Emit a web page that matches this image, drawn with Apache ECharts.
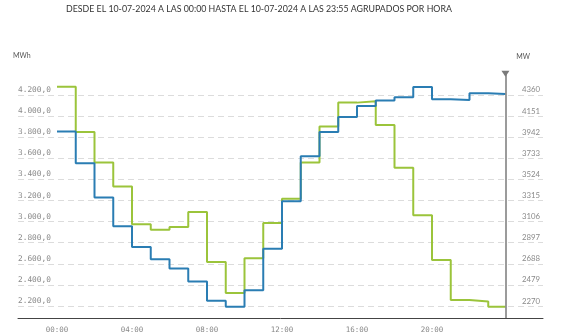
<!DOCTYPE html>
<html>
<head>
<meta charset="utf-8">
<script src="https://cdn.jsdelivr.net/npm/echarts@6/dist/echarts.min.js"></script>
<style>
  html, body { margin: 0; padding: 0; background: #fff; }
  #chart { width: 567px; height: 334px; }
</style>
</head>
<body>
<div id="chart"></div>
<script>
// Hourly values for 10-07-2024 (each value holds for its hour)
const hours = [0, 1, 2, 3, 4, 5, 6, 7, 8, 9, 10, 11, 12, 13, 14, 15, 16, 17, 18, 19, 20, 21, 22, 23];
const endHour = 23 + 55 / 60; // last sample 23:55
const seriesBlue = [3854, 3552, 3228, 2955, 2759, 2643, 2555, 2433, 2250, 2193, 2351, 2744,
                    3193, 3618, 3848, 3990, 4096, 4146, 4178, 4275, 4159, 4153, 4216, 4209];
const seriesGreen = [4278, 3848, 3561, 3332, 2974, 2923, 2948, 3090, 2618, 2325, 2653, 2986,
                     3216, 3561, 3901, 4127, 4140, 3914, 3511, 3061, 2637, 2257, 2244, 2193];
const xTicks = [0, 4, 8, 12, 16, 20];
const rightTickLabels = ['2061', '2270', '2479', '2688', '2897', '3106', '3315', '3524', '3733', '3942', '4151', '4360'];

const toSteps = (vals) => {
  const pts = hours.map((h, i) => [h, vals[i]]);
  pts.push([endHour, vals[vals.length - 1]]);
  return pts;
};

const fmtMWh = (v) => {
  const n = Math.round(v);
  const s = String(n).replace(/\B(?=(\d{3})+(?!\d))/g, '.');
  return s + ',0';
};

const Y_MIN = 2000, Y_MAX = 4400, Y_STEP = 200;

const chart = echarts.init(document.getElementById('chart'), null, { renderer: 'canvas' });
chart.setOption({
  animation: false,
  backgroundColor: '#ffffff',
  title: {
    text: 'DESDE EL 10-07-2024 A LAS 00:00 HASTA EL 10-07-2024 A LAS 23:55 AGRUPADOS POR HORA',
    left: 61,
    top: 0,
    textStyle: { fontFamily: 'Lato', fontSize: 8.8, fontWeight: 'normal', color: '#333' }
  },
  // unit captions above each value axis
  graphic: [
    { type: 'text', left: 13, top: 52,
      style: { text: 'MWh', fontFamily: 'Lato', fontSize: 7, fill: '#555' } },
    { type: 'text', right: 37, top: 53,
      style: { text: 'MW', fontFamily: 'Lato', fontSize: 7, fill: '#555' } }
  ],
  grid: { left: 18, right: 24, top: 73.8, bottom: 5.8, containLabel: false },
  xAxis: {
    type: 'value',
    min: -2.08,
    max: 25.92,
    offset: -9.2,
    axisLine: { show: true, lineStyle: { color: '#444', width: 1 } },
    axisTick: { show: false },
    splitLine: { show: false },
    axisLabel: {
      customValues: xTicks,
      margin: 8,
      fontFamily: 'DejaVu Sans Mono',
      fontSize: 7.5,
      color: '#888',
      formatter: (v) => String(v).padStart(2, '0') + ':00'
    }
  },
  yAxis: [
    {
      type: 'value',
      position: 'left',
      min: Y_MIN, max: Y_MAX, interval: Y_STEP,
      axisLine: { show: false },
      axisTick: { show: false },
      splitLine: { show: true, showMinLine: false, showMaxLine: false,
                   lineStyle: { color: '#dcdcdc', type: [6, 4], width: 1 } },
      axisLabel: {
        inside: true,
        margin: 0,
        align: 'left',
        verticalAlign: 'bottom',
        lineHeight: 10,
        showMinLabel: false,
        showMaxLabel: false,
        fontFamily: 'DejaVu Sans Mono',
        fontSize: 7.8,
        color: '#8a8a8a',
        formatter: fmtMWh
      }
    },
    {
      type: 'value',
      position: 'right',
      min: Y_MIN, max: Y_MAX, interval: Y_STEP,
      axisLine: { show: false },
      axisTick: { show: false },
      splitLine: { show: false },
      axisLabel: {
        inside: true,
        margin: 3,
        align: 'right',
        verticalAlign: 'bottom',
        lineHeight: 10,
        showMinLabel: false,
        showMaxLabel: false,
        fontFamily: 'Lato',
        fontSize: 7.8,
        color: '#8a8a8a',
        formatter: (v) => rightTickLabels[Math.round((v - Y_MIN) / Y_STEP)] || ''
      }
    }
  ],
  series: [
    {
      name: 'green',
      type: 'line',
      step: 'end',
      data: toSteps(seriesGreen),
      showSymbol: false,
      lineStyle: { color: '#9bc43b', width: 2 },
      itemStyle: { color: '#9bc43b' },
      z: 2
    },
    {
      name: 'blue',
      type: 'line',
      step: 'end',
      data: toSteps(seriesBlue),
      showSymbol: false,
      lineStyle: { color: '#2a7db3', width: 2 },
      itemStyle: { color: '#2a7db3' },
      z: 3,
      markLine: {
        silent: true,
        symbol: ['none', 'triangle'],
        symbolSize: [8, 6],
        symbolRotate: 180,
        label: { show: false },
        lineStyle: { color: '#7a7a7a', width: 1.5, type: 'solid' },
        data: [[{ coord: [endHour, 2087] }, { coord: [endHour, Y_MAX] }]]
      }
    }
  ]
});
</script>
</body>
</html>
